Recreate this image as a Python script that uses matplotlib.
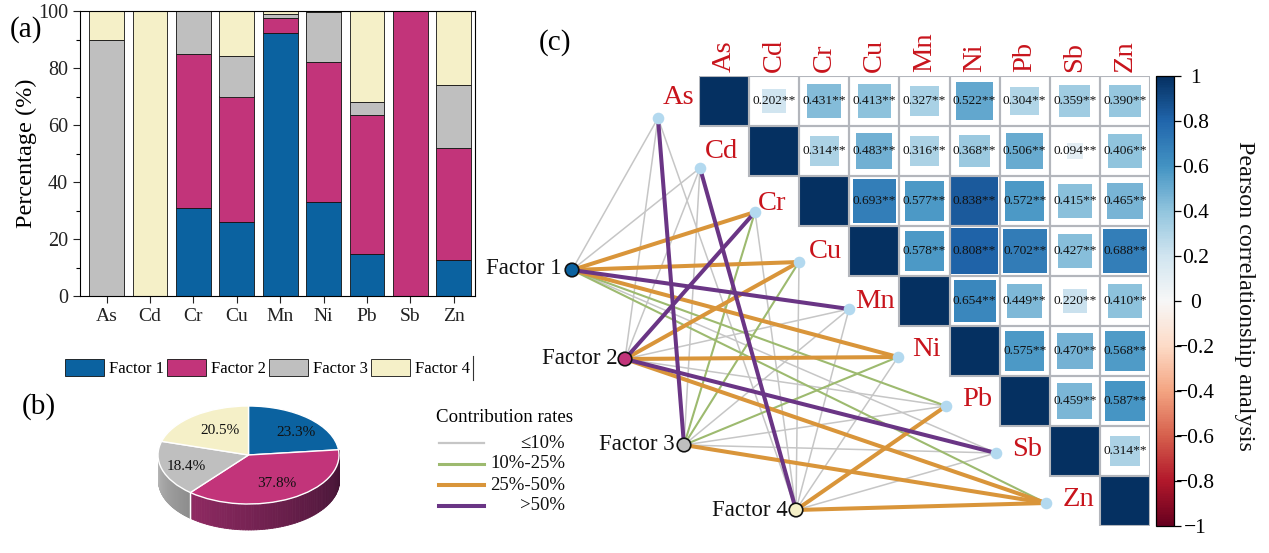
import numpy as np
import matplotlib
matplotlib.use("Agg")
import matplotlib.pyplot as plt
from matplotlib.patches import Rectangle
from matplotlib.ticker import MultipleLocator

plt.rcParams['font.family'] = ['Liberation Serif', 'DejaVu Sans']

W, H = 1269, 553

elements = ['As', 'Cd', 'Cr', 'Cu', 'Mn', 'Ni', 'Pb', 'Sb', 'Zn']
factors = ['Factor 1', 'Factor 2', 'Factor 3', 'Factor 4']
factor1 = [0, 0, 31, 26, 92.3, 33, 14.7, 0, 12.8]
factor2 = [0, 0, 54, 44, 5.3, 49, 48.8, 100, 39]
factor3 = [90, 0, 15, 14.3, 1.4, 17.7, 4.5, 0, 22.2]
factor4 = [10, 100, 0, 15.7, 1, 0.3, 32, 0, 26]
factor_colors = ['#0b62a0', '#c2347a', '#bfbfbf', '#f5f0c8']

pie_values = [23.3, 37.8, 18.4, 20.5]

# upper triangle of the Pearson matrix, row by row, without the diagonal
corr_rows = [
    [0.202, 0.431, 0.413, 0.327, 0.522, 0.304, 0.359, 0.390],
    [0.314, 0.483, 0.316, 0.368, 0.506, 0.094, 0.406],
    [0.693, 0.577, 0.838, 0.572, 0.415, 0.465],
    [0.578, 0.808, 0.702, 0.427, 0.688],
    [0.654, 0.449, 0.220, 0.410],
    [0.575, 0.470, 0.568],
    [0.459, 0.587],
    [0.314],
]

# contribution class of each factor -> element link: 0 <=10, 1 10-25, 2 25-50, 3 >50
links = [
    [0, 0, 2, 2, 3, 2, 1, 0, 1],
    [0, 0, 3, 2, 0, 2, 0, 3, 2],
    [3, 0, 1, 1, 0, 1, 0, 0, 2],
    [0, 3, 0, 0, 0, 0, 2, 0, 2],
]
link_names = ['\u226410%', '10%-25%', '25%-50%', '>50%']
link_colors = ['#c6c6c6', '#9dba6f', '#d9953a', '#6a3585']
link_widths = [1.1, 1.5, 2.9, 2.9]

# graph layout, in figure pixels
elem_x = [658, 700, 755, 799, 849, 898, 946, 996, 1046]
elem_y = [118, 168, 212, 262, 309, 357, 406, 453, 503]
fact_x = [572, 625, 684, 796]
fact_y = [270, 359, 445, 510]

RED = '#c8141c'


def rect(l, t, r, b):
    return [l / W, 1 - b / H, (r - l) / W, (b - t) / H]


fig = plt.figure(figsize=(W / 100, H / 100), dpi=100)

# (a) stacked bars
ax = fig.add_axes(rect(80, 11, 475, 296))
x = np.arange(len(elements))
bottom = np.zeros(len(elements))
for name, vals, col in zip(factors, [factor1, factor2, factor3, factor4], factor_colors):
    ax.bar(x, vals, 0.8, bottom=bottom, color=col, edgecolor='#111111', linewidth=0.6, label=name)
    bottom += np.array(vals)
ax.set_xlim(-0.615, 8.49)
ax.set_ylim(0, 100)
ax.set_xticks(x, elements)
ax.yaxis.set_major_locator(MultipleLocator(20))
ax.yaxis.set_minor_locator(MultipleLocator(10))
ax.tick_params(axis='x', labelsize=14, length=5, width=0.8, colors='#222222')
ax.tick_params(axis='y', labelsize=14.5, length=5, width=0.8, colors='#222222')
ax.tick_params(axis='y', which='minor', length=3, width=0.8)
ax.set_ylabel('Percentage (%)', fontsize=17.5, labelpad=1)
ax.legend(ncol=4, frameon=False, fontsize=12, loc='center left',
          bbox_to_anchor=(65 / W, 1 - 368 / H), bbox_transform=fig.transFigure,
          handlelength=2.33, handleheight=1.14, handletextpad=0.3,
          columnspacing=0.2, borderpad=0, borderaxespad=0)

# (b) pie with a drawn side wall
pax = fig.add_axes(rect(158, 406, 339, 504))
wedges, _, pct = pax.pie(pie_values, colors=factor_colors, startangle=90, counterclock=False,
                         autopct='%.1f%%', radius=1,
                         wedgeprops=dict(edgecolor='white', linewidth=1),
                         textprops=dict(fontsize=11, color='#111111'))
pax.set_aspect('auto')
pax.set_xlim(-1, 1)
pax.set_ylim(-1, 1)
for t, pos in zip(pct, [(0.53, 0.45), (0.31, -0.58), (-0.69, -0.24), (-0.31, 0.49)]):
    t.set_position(pos)
depth = 0.52
edges = np.cumsum([0] + pie_values) / 100 * 360
wall_sets = [(edges[1], edges[2], '#8f2a62', '#3c1230'), (edges[2], 270, '#8c8c8c', '#b4b4b4')]
for a0, a1, c0, c1 in wall_sets:
    # colour runs with x position, left side first for the magenta slice
    ang = np.linspace(a0, a1, 80)
    c0_rgb = np.array(matplotlib.colors.to_rgb(c0))
    c1_rgb = np.array(matplotlib.colors.to_rgb(c1))
    for i in range(len(ang) - 1):
        u = i / (len(ang) - 2)
        col = c1_rgb + (c0_rgb - c1_rgb) * u if a0 == edges[1] else c0_rgb + (c1_rgb - c0_rgb) * u
        th = np.radians(ang[i:i + 2])
        xs = np.sin(th)
        ys = np.cos(th)
        pax.fill_between(xs, ys, ys - depth, color=col, linewidth=0.6, zorder=0, clip_on=False)
th = np.radians(edges[2])
pax.plot([np.sin(th)] * 2, [np.cos(th), np.cos(th) - depth], color='white', lw=1, zorder=0.5, clip_on=False)

# overlay for the graph and loose text
ov = fig.add_axes([0, 0, 1, 1], zorder=-1)
ov.set_xlim(0, W)
ov.set_ylim(H, 0)
ov.axis('off')
for cls in range(4):
    for f in range(4):
        for e in range(9):
            if links[f][e] == cls:
                ov.plot([fact_x[f], elem_x[e]], [fact_y[f], elem_y[e]],
                        color=link_colors[cls], lw=link_widths[cls],
                        solid_capstyle='round', zorder=1 + cls)
ov.scatter(elem_x, elem_y, s=70, color='#b3d9ef', linewidths=0, zorder=6)
ov.scatter(fact_x, fact_y, s=95, color=factor_colors, edgecolors='#111111', linewidths=1.2, zorder=6)

label_x = [679, 722, 772, 825, 875, 926, 977, 1027, 1078]
label_y = [97, 151, 203, 251, 301, 350, 399, 449, 500]
for name, lx, ly in zip(elements, label_x, label_y):
    ov.text(lx, ly, name, color=RED, fontsize=20.5, ha='center', va='center')
for name, fx, fy in zip(factors, [562, 618, 675, 788], [268, 358, 445, 510]):
    ov.text(fx, fy, name, color='#111111', fontsize=16.5, ha='right', va='center')

ov.text(10, 30, '(a)', fontsize=21, va='center')
ov.text(22, 407, '(b)', fontsize=21, va='center')
ov.text(539, 43, '(c)', fontsize=21, va='center')

ov.plot([473, 473], [356, 380], color='#333333', lw=0.8)

ov.text(436, 418, 'Contribution rates', fontsize=13.6, va='center')
for i, name in enumerate(link_names):
    yy = 443 + i * 21
    ov.plot([439, 484], [yy, yy], color=link_colors[i], lw=[1.6, 2.2, 2.9, 2.9][i])
    ov.text(565, yy, name, fontsize=13.5, ha='right', va='center', color='#111111')

# (c) correlation squares
hax = fig.add_axes(rect(699, 76, 1150, 526))
hax.set_xlim(0, 9)
hax.set_ylim(9, 0)
cmap = plt.get_cmap('RdBu')
norm = plt.Normalize(-1, 1)
grid_col = '#b3b6bc'
for i in range(9):
    for j in range(i, 9):
        hax.add_patch(Rectangle((j, i), 1, 1, facecolor='none', edgecolor=grid_col, lw=1.5, zorder=3))
    hax.add_patch(Rectangle((i, i), 1, 1, facecolor=cmap(norm(1)), edgecolor='none', zorder=1))
for i, row in enumerate(corr_rows):
    for k, r in enumerate(row):
        j = i + 1 + k
        size = min(np.sqrt(r) * 1.04, 0.95)
        hax.add_patch(Rectangle((j + 0.5 - size / 2, i + 0.5 - size / 2), size, size,
                                facecolor=cmap(norm(r)), edgecolor='none', zorder=1))
        hax.text(j + 0.5, i + 0.5, f'{r:.3f}**', fontsize=9.6, ha='center', va='center',
                 color='#111111', zorder=4)
hax.axis('off')
for j, name in enumerate(elements):
    hax.text(j + 0.5, -0.08, name, color=RED, fontsize=20.5, rotation=90, ha='center', va='bottom',
             clip_on=False)

cax = fig.add_axes(rect(1156, 76, 1174, 526))
sm = matplotlib.cm.ScalarMappable(norm=norm, cmap=cmap)
cb = fig.colorbar(sm, cax=cax, ticks=np.arange(-10, 11, 2) / 10)
cb.ax.set_yticklabels(['\u22121', '\u22120.8', '\u22120.6', '\u22120.4', '\u22120.2', '0',
                       '0.2', '0.4', '0.6', '0.8', '1'])
cb.ax.tick_params(labelsize=15.5, length=5, width=0.9, pad=10.5)
for t in cb.ax.get_yticklabels():
    t.set_ha('center')
cb.outline.set_linewidth(0.9)
ov.text(1245, 296, 'Pearson correlationship analysis', fontsize=17.3, rotation=270,
        ha='center', va='center', color='#111111')

fig.savefig('out.png', dpi=100)
